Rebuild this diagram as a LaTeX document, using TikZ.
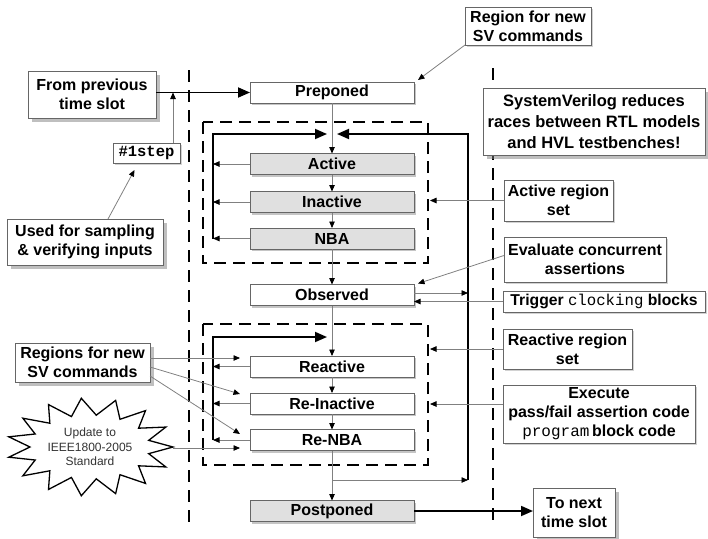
\documentclass[tikz,border=0pt]{standalone}
\usepackage{fontspec}
\setmainfont{Liberation Sans}
\setmonofont{Liberation Mono}
\usetikzlibrary{arrows.meta,shadows,calc}
\begin{document}
\begin{tikzpicture}[x=1pt,y=-1pt,
  every node/.style={inner sep=0pt, outer sep=0pt},
  bfont/.style={font=\bfseries\fontsize{16}{19}\selectfont},
  region/.style={draw=black!60, line width=0.8pt, minimum width=164pt, minimum height=21pt, bfont,
    drop shadow={shadow xshift=2pt, shadow yshift=-2pt, fill=black!45}},
  whiteregion/.style={region, fill=white},
  grayregion/.style={region, fill=black!12},
  note/.style={draw=black!60, line width=0.8pt, fill=white, align=center, bfont},
  bigshadow/.style={drop shadow={shadow xshift=4pt, shadow yshift=-4pt, fill=black!50}},
  smallshadow/.style={drop shadow={shadow xshift=2pt, shadow yshift=-2pt, fill=black!35}},
  conn/.style={draw=black!50, line width=0.8pt, -{Triangle[length=6.5pt,width=5.5pt,color=black]}},
  thickarrow/.style={draw=black, line width=1.8pt, -{Triangle[length=12pt,width=10pt]}},
  bigdash/.style={line width=2.6pt, dash pattern=on 12pt off 8pt},
  boxdash/.style={line width=2.6pt, dash pattern=on 12pt off 7pt},
]
\useasboundingbox (0,0) rectangle (708,538);

% dashed separators and region sets
\draw[bigdash] (189,70) -- (189,524);
\draw[bigdash] (493,68) -- (493,524);
\draw[boxdash] (203,122) rectangle (428,263);
\draw[boxdash] (203,324) rectangle (428,465);

% helper coordinates
\coordinate (L) at (213,0);
\coordinate (R) at (468,0);
\coordinate (D) at (430,0);
\coordinate (T1) at (332,134);
\coordinate (T2) at (332,337);
\coordinate (B1) at (332,480);
\coordinate (burstR) at (173,448);

% region boxes
\node[whiteregion] (pre) at (332,92.5) {Preponed};
\node[grayregion] (act) at (332,164) {Active};
\node[grayregion] (inac) at (332,202) {Inactive};
\node[grayregion] (nba) at (332,238.5) {NBA};
\node[whiteregion] (obs) at (332,295) {Observed};
\node[whiteregion] (reac) at (332,366.5) {Reactive};
\node[whiteregion] (reinac) at (332,403.5) {Re-Inactive};
\node[whiteregion] (renba) at (332,440) {Re-NBA};
\node[grayregion] (post) at (332,511) {Postponed};

% notes
\node[note, bigshadow, minimum width=128pt, minimum height=47pt] (from) at (92,94.5) {From previous\\time slot};
\node[note, smallshadow, minimum width=67pt, minimum height=20pt, font=\bfseries\ttfamily\fontsize{15.5}{19}\selectfont] (step) at (146.5,153) {\#1step};
\node[note, bigshadow, minimum width=156pt, minimum height=46pt] (used) at (85,242) {Used for sampling\\\& verifying inputs};
\node[note, smallshadow, minimum width=126pt, minimum height=38pt] (regtop) at (528,26) {Region for new\\SV commands};
\node[note, bigshadow, minimum width=222pt, minimum height=67pt, font=\bfseries\fontsize{16.5}{21}\selectfont] (sysv) at (594,121.5) {SystemVerilog reduces\\races between RTL models\\and HVL testbenches!};
\node[note, smallshadow, minimum width=109pt, minimum height=41pt] (actset) at (558.5,200.5) {Active region\\set};
\node[note, smallshadow, minimum width=162pt, minimum height=45pt] (eval) at (585,259.5) {Evaluate concurrent\\assertions};
\node[note, smallshadow, minimum width=202pt, minimum height=21pt, font=\bfseries\fontsize{15.7}{19}\selectfont] (trig) at (604,301.5) {Trigger {\mdseries\ttfamily clocking} blocks};
\node[note, smallshadow, minimum width=129pt, minimum height=40pt] (reactset) at (567.5,349) {Reactive region\\set};
\node[note, smallshadow, minimum width=192pt, minimum height=58pt] (exec) at (599,414) {Execute\\pass/fail assertion code\\{\mdseries\ttfamily program}\,block code};
\node[note, bigshadow, minimum width=82pt, minimum height=49pt] (next) at (574,512.5) {To next\\time slot};
\node[note, bigshadow, minimum width=135pt, minimum height=39pt] (regs) at (82.5,362.5) {Regions for new\\SV commands};

% starburst
\draw[line width=1.3pt, fill=white] plot[variable=\k, samples at={0,...,29}]
  ({90+ifthenelse(mod(\k,2)==0,83,60)*cos(\k*12)}, {447+ifthenelse(mod(\k,2)==0,49,32)*sin(\k*12)}) -- cycle;
\node[align=center, text=black!80, font=\fontsize{12}{14.5}\selectfont] (upd) at (90,447) {Update to\\IEEE1800-2005\\Standard};

% main flow
\draw[conn] (pre.south) -- (act.north);
\draw[conn] (act.south) -- (inac.north);
\draw[conn] (inac.south) -- (nba.north);
\draw[conn] (nba.south) -- (obs.north);
\draw[conn] (obs.south) -- (reac.north);
\draw[conn] (reac.south) -- (reinac.north);
\draw[conn] (reinac.south) -- (renba.north);
\draw[conn] (renba.south) -- (post.north);

% left loop arrows
\foreach \n in {act,inac,nba,reac,reinac,renba}
  \draw[conn] (\n.west) -- (\n.west -| L);
\draw[thickarrow] (nba.west -| L) -- (L |- T1) -- ([xshift=-5pt]T1);
\draw[thickarrow] (renba.west -| L) -- (L |- T2) -- ([xshift=-5pt]T2);

% right loop
\draw[conn] (B1) -- (B1 -| R);
\draw[thickarrow] (B1 -| R) -- (R |- T1) -- ([xshift=5pt]T1);
\draw[conn] ([yshift=2pt]obs.east) -- ([yshift=2pt]obs.east -| R);
\draw[conn] (trig.west) -- (trig.west -| obs.east);

% time slot arrows
\draw[thickarrow] (from.east |- pre.west) -- (pre.west);
\draw[thickarrow] (post.east) -- (next.west |- post.east);
\draw[conn] ([xshift=-7pt]step.north east) -- ([xshift=-7pt]step.north east |- pre.west);
\draw[conn] ([xshift=23pt]used.north) -- ([xshift=-12pt,yshift=-7pt]step.south);
\draw[conn] (regtop.south west) -- ([xshift=4pt,yshift=2pt]pre.north east);

% right-hand notes
\draw[conn] (actset.west) -- (actset.west -| D);
\draw[conn] (reactset.west) -- (reactset.west -| D);
\draw[conn] ([yshift=10pt]exec.west) -- ([yshift=10pt]exec.west -| D);
\draw[conn] ([yshift=4pt]eval.west) -- ([xshift=4pt,yshift=1pt]obs.north east);

% left-hand notes
\draw[conn] ([yshift=4.5pt]regs.east) -- ([xshift=-10pt,yshift=8.5pt]reac.west);
\draw[conn] ([yshift=-4.5pt]regs.east) -- ([xshift=-10pt,yshift=9.5pt]reinac.west);
\draw[conn] ([yshift=-13.5pt]regs.east) -- ([xshift=-10pt,yshift=6pt]renba.west);
\draw[conn] (burstR) -- ([xshift=-10pt]burstR -| renba.west);
\end{tikzpicture}
\end{document}
